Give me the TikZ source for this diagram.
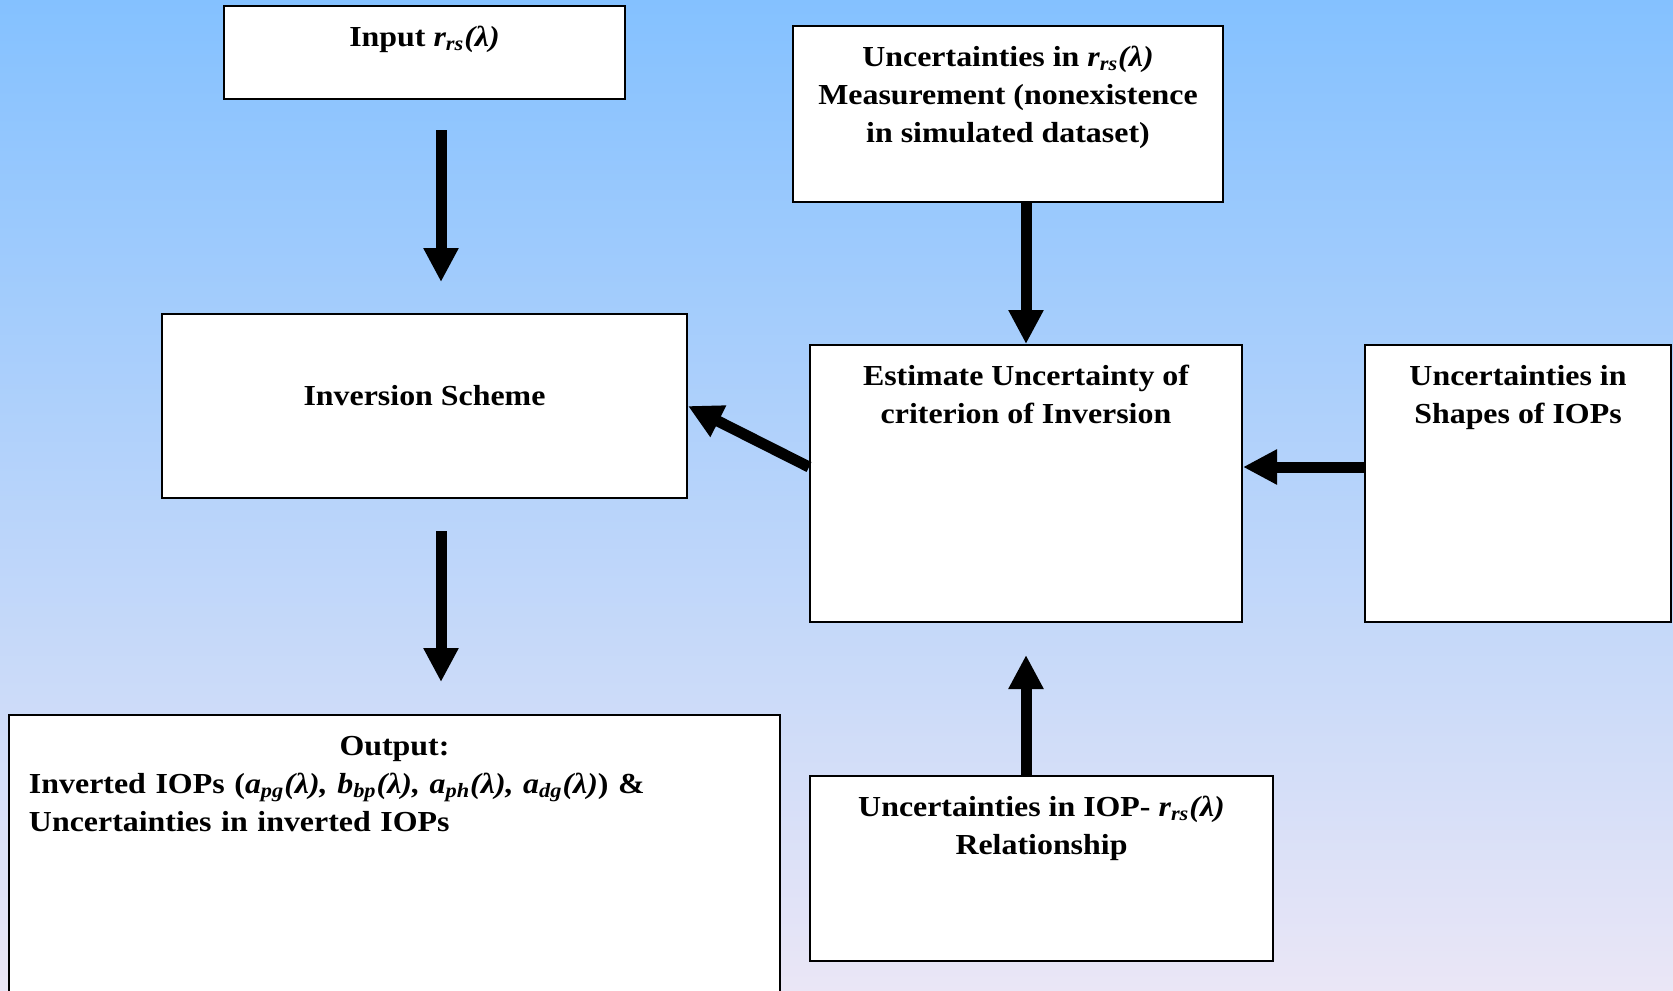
\documentclass[tikz,border=0pt]{standalone}
\usepackage{fontspec}
\setmainfont[FakeStretch=1.1]{Liberation Serif}
\usetikzlibrary{arrows.meta}
\definecolor{bgtop}{RGB}{132,193,255}
\definecolor{bgbot}{RGB}{234,230,246}
\newcommand{\rrs}{\textit{r\textsubscript{rs}(λ)}}
\newcommand{\iop}[1]{\textit{#1}}
\begin{document}
\begin{tikzpicture}[x=0.5pt, y=-0.5pt,
    box/.style={draw, line width=1pt, fill=white, inner sep=0pt},
    txt/.style={anchor=north, inner sep=0pt, align=center, font=\bfseries\fontsize{14.5}{19}\selectfont, yshift=-7.2pt},
    arr/.style={line width=5.5pt, -{Triangle[length=17pt,width=16.5pt]}}]
  \shade[top color=bgtop, bottom color=bgbot] (0,0) rectangle (1673,990);
  \useasboundingbox (0,0) rectangle (1673,990);
  % boxes
  \node[box, minimum width=200.5pt, minimum height=46.5pt, label={[txt]north:\strut Input \rrs}] (inp) at (424.5,52.5) {};
  \node[box, minimum width=215pt, minimum height=88pt, label={[txt]north:\strut Uncertainties in \rrs\\Measurement (nonexistence\\in simulated dataset)}] (unc) at (1008,114) {};
  \node[box, minimum width=262.5pt, minimum height=92pt, label={[txt, yshift=-25.5pt]north:\strut Inversion Scheme}] (inv) at (424.5,406) {};
  \node[box, minimum width=216pt, minimum height=138.5pt, label={[txt]north:\strut Estimate Uncertainty of\\criterion of Inversion}] (est) at (1026,483.5) {};
  \node[box, minimum width=153pt, minimum height=138.5pt, label={[txt]north:\strut Uncertainties in\\Shapes of IOPs}] (shp) at (1518,483.5) {};
  \node[box, minimum width=385.5pt, minimum height=142.5pt, label={[txt, text width=365.5pt, align=left]north:\strut\hfill Output:\hfill\null\\Inverted IOPs (\iop{a\textsubscript{pg}(λ), b\textsubscript{bp}(λ), a\textsubscript{ph}(λ), a\textsubscript{dg}(λ)}) \&\\Uncertainties in inverted IOPs}] (out) at (394.5,857.5) {};
  \node[box, minimum width=231.5pt, minimum height=92.5pt, label={[txt]north:\strut Uncertainties in IOP- \rrs\\Relationship}] (rel) at (1041.5,868.5) {};
  % arrows
  \draw[arr, shorten <=15pt, shorten >=15.5pt] ([xshift=8.25pt]inp.south) -- ([xshift=8.25pt]inv.north);
  \draw[arr] (est.north |- unc.south) -- (est.north);
  \draw[arr] ([yshift=8.25pt]est.west) -- (inv.east);
  \draw[arr] ([yshift=8.25pt]shp.west) -- ([yshift=8.25pt]est.east);
  \draw[arr, shorten <=16pt, shorten >=16pt] ([xshift=8.25pt]inv.south) -- ([xshift=8.25pt]inv.south |- out.north);
  \draw[arr, shorten >=16pt] (est.south |- rel.north) -- (est.south);
\end{tikzpicture}
\end{document}
